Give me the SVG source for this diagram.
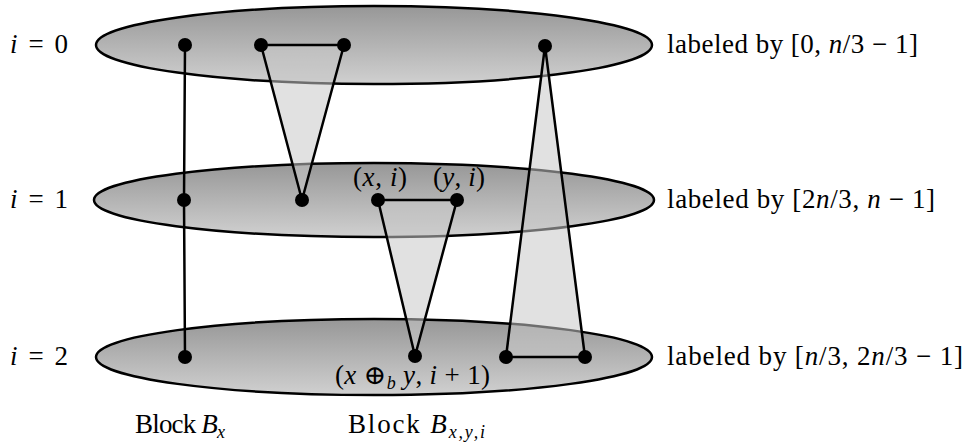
<svg xmlns="http://www.w3.org/2000/svg" width="969" height="445" viewBox="0 0 969 445">
<defs>
<linearGradient id="g" x1="0" y1="0" x2="0" y2="1">
<stop offset="0" stop-color="#979797"/>
<stop offset="1" stop-color="#d0d0d0"/>
</linearGradient>
</defs>
<style>
.layer{fill:url(#g);stroke:#000;stroke-width:2.5}
.tri{fill:#c8c8c8;fill-opacity:0.55;stroke:#000;stroke-width:2.5;stroke-linejoin:round}
.ln{stroke:#000;stroke-width:2.5;fill:none}
.dot{fill:#000}
text{font-family:"Liberation Serif","DejaVu Serif",serif;font-size:27px;fill:#000}
.m{font-style:italic}
</style>
<g id="layers">
<ellipse id="layer0" class="layer" cx="374" cy="45" rx="278" ry="39"/>
<ellipse id="layer1" class="layer" cx="374" cy="200" rx="280" ry="37"/>
<ellipse id="layer2" class="layer" cx="374" cy="357" rx="278" ry="38"/>
</g>
<g id="connectors">
<polyline class="ln" points="185,45 184,200 185,357"/>
<polygon class="tri" points="261,45 344,45 302,200"/>
<polygon class="tri" points="378,200 457,200 415,356"/>
<polygon class="tri" points="545,46 506,357 585,357"/>
</g>
<g id="nodes">
<circle class="dot" cx="185" cy="45" r="7"/>
<circle class="dot" cx="261" cy="45" r="7"/>
<circle class="dot" cx="344" cy="45" r="7"/>
<circle class="dot" cx="545" cy="46" r="7"/>
<circle class="dot" cx="184" cy="200" r="7"/>
<circle class="dot" cx="302" cy="200" r="7"/>
<circle class="dot" cx="378" cy="200" r="7"/>
<circle class="dot" cx="457" cy="200" r="7"/>
<circle class="dot" cx="185" cy="357" r="7"/>
<circle class="dot" cx="415" cy="356" r="7"/>
<circle class="dot" cx="506" cy="357" r="7"/>
<circle class="dot" cx="585" cy="357" r="7"/>
</g>
<g id="labels">
<text x="10" y="53" textLength="58" lengthAdjust="spacing"><tspan class="m">i</tspan> = 0</text>
<text x="10" y="208" textLength="58" lengthAdjust="spacing"><tspan class="m">i</tspan> = 1</text>
<text x="10" y="365" textLength="58" lengthAdjust="spacing"><tspan class="m">i</tspan> = 2</text>
<text x="353" y="186" textLength="54" lengthAdjust="spacing">(<tspan class="m">x</tspan>, <tspan class="m">i</tspan>)</text>
<text x="433" y="186" textLength="52" lengthAdjust="spacing">(<tspan class="m">y</tspan>, <tspan class="m">i</tspan>)</text>
<text x="335" y="384" textLength="155" lengthAdjust="spacing">(<tspan class="m">x</tspan> ⊕<tspan font-size="18" class="m" dy="5">b</tspan> <tspan class="m" dy="-5">y</tspan>, <tspan class="m">i</tspan> + 1)</text>
<text x="667" y="53" textLength="251" lengthAdjust="spacing">labeled by [0, <tspan class="m">n</tspan>/3 − 1]</text>
<text x="667" y="208" textLength="268" lengthAdjust="spacing">labeled by [2<tspan class="m">n</tspan>/3, <tspan class="m">n</tspan> − 1]</text>
<text x="667" y="365" textLength="296" lengthAdjust="spacing">labeled by [<tspan class="m">n</tspan>/3, 2<tspan class="m">n</tspan>/3 − 1]</text>
<text x="135" y="433" textLength="90" lengthAdjust="spacing">Block <tspan class="m">B</tspan><tspan class="m" font-size="18" dy="5">x</tspan></text>
<text x="348" y="433" textLength="137" lengthAdjust="spacing">Block <tspan class="m">B</tspan><tspan class="m" font-size="18" dy="5">x,y,i</tspan></text>
</g>
</svg>
